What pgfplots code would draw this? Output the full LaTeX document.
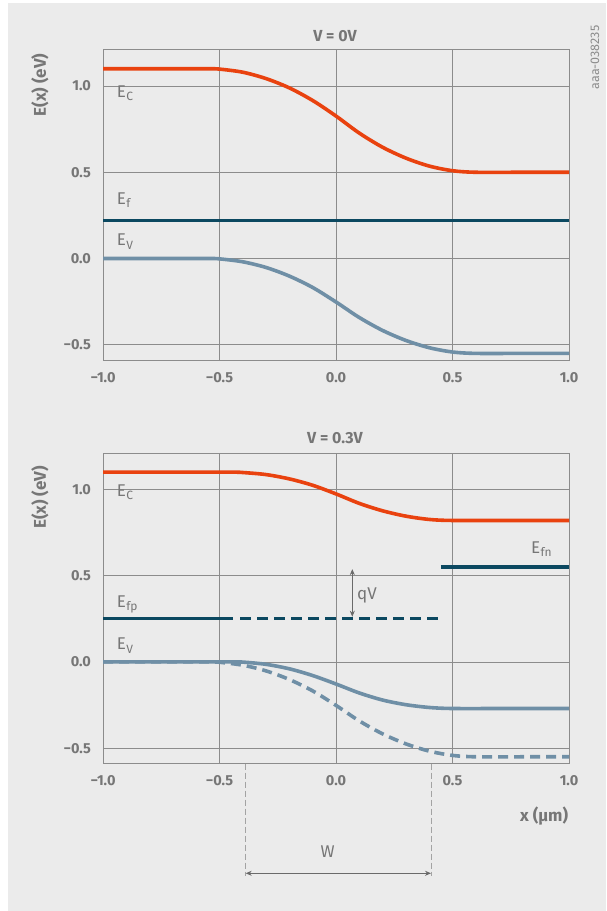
\documentclass[border=0pt]{standalone}
\usepackage{pgfplots}
\pgfplotsset{compat=1.18}
\usepackage{fontspec}
\setmainfont{Fira Sans}
\usetikzlibrary{arrows.meta}
\definecolor{bg}{HTML}{EBEBEB}
\definecolor{ecol}{HTML}{E9420F}
\definecolor{fcol}{HTML}{0B4860}
\definecolor{vcol}{HTML}{6F8FA6}
\definecolor{txt}{HTML}{767676}
\definecolor{gridc}{HTML}{8C8C8C}
\definecolor{annc}{HTML}{6A6A6A}
\newcommand{\Es}[1]{E\kern0.3pt\raisebox{-0.18em}{\fontsize{12}{12}\selectfont #1}}
\pgfplotsset{band/.style={
  scale only axis, width=466pt, height=310.5pt, anchor=south west,
  xmin=-1, xmax=1, ymin=-0.59, ymax=1.21,
  xtick={-1,-0.5,0,0.5,1}, ytick={-0.5,0,0.5,1},
  xticklabels={−1.0,−0.5,0.0,0.5,1.0},
  yticklabels={−0.5,0.0,0.5,1.0},
  major tick length=0pt,
  grid=major, grid style={gridc, line width=0.8pt},
  axis line style={gridc, line width=0.8pt},
  tick label style={font=\fontsize{14.5}{16}\selectfont\bfseries, text=txt, inner sep=0pt},
  xticklabel style={anchor=north, yshift=-12pt},
  yticklabel style={anchor=east, xshift=-12pt},
  clip=false,
}}
\begin{document}
\begin{tikzpicture}[x=1pt,y=1pt]
\fill[white] (0pt,0pt) rectangle (606pt,911pt);
\fill[bg] (8pt,0pt) rectangle (606pt,907.7pt);
% ---------- V = 0V ----------
\begin{axis}[band, at={(103pt,550.7pt)}]
\addplot[fcol, line width=3.2pt] coordinates {(-1,0.22) (1,0.22)};
\addplot[ecol, line width=3.6pt, smooth] coordinates {
(-1,1.1) (-0.75,1.1) (-0.55,1.1) (-0.5,1.098) (-0.4,1.080) (-0.3,1.043) (-0.2,0.989) (-0.1,0.916) (0,0.826) (0.1,0.727) (0.2,0.645) (0.3,0.582) (0.4,0.536) (0.5,0.509) (0.6,0.5) (0.8,0.5) (1,0.5)};
\addplot[vcol, line width=3.6pt, smooth] coordinates {
(-1,0) (-0.75,0) (-0.55,0) (-0.5,-0.002) (-0.4,-0.019) (-0.3,-0.052) (-0.2,-0.102) (-0.1,-0.168) (0,-0.252) (0.1,-0.342) (0.2,-0.417) (0.3,-0.475) (0.4,-0.517) (0.5,-0.542) (0.6,-0.55) (0.8,-0.55) (1,-0.55)};
\end{axis}
% ---------- V = 0.3V ----------
\begin{axis}[band, at={(103pt,147.3pt)}]
\addplot[ecol, line width=3.6pt, smooth] coordinates {
(-1,1.1) (-0.75,1.1) (-0.45,1.1) (-0.4,1.098) (-0.3,1.086) (-0.2,1.061) (-0.1,1.024) (0,0.974) (0.1,0.919) (0.2,0.876) (0.3,0.845) (0.4,0.826) (0.5,0.82) (0.75,0.82) (1,0.82)};
\addplot[fcol, line width=3.2pt] coordinates {(0.45,0.55) (1,0.55)};
\addplot[fcol, line width=3.2pt] coordinates {(-1,0.25) (-0.44,0.25)};
\addplot[fcol, line width=3.2pt, dash pattern=on 11pt off 6pt] coordinates {(-0.41,0.25) (0.44,0.25)};
\addplot[vcol, line width=3.6pt, smooth, dash pattern=on 10pt off 6pt] coordinates {
(-1,0) (-0.75,0) (-0.55,0) (-0.5,-0.002) (-0.4,-0.019) (-0.3,-0.052) (-0.2,-0.102) (-0.1,-0.168) (0,-0.252) (0.1,-0.342) (0.2,-0.417) (0.3,-0.475) (0.4,-0.517) (0.5,-0.542) (0.6,-0.55) (0.8,-0.55) (1,-0.55)};
\addplot[vcol, line width=3.6pt, smooth] coordinates {
(-1,0) (-0.75,0) (-0.45,0) (-0.4,-0.001) (-0.3,-0.014) (-0.2,-0.040) (-0.1,-0.079) (0,-0.128) (0.1,-0.180) (0.2,-0.221) (0.3,-0.248) (0.4,-0.264) (0.5,-0.27) (0.75,-0.27) (1,-0.27)};
\draw[annc, line width=0.8pt, {Stealth[length=6pt,width=5pt]}-{Stealth[length=6pt,width=5pt]}] (axis cs:0.07,0.262) -- (axis cs:0.07,0.538);
\end{axis}
% ---------- depletion width ----------
\draw[gridc!80!white, line width=0.8pt, dash pattern=on 6pt off 3pt] (245.7pt,147.3pt) -- (245.7pt,35pt);
\draw[gridc!80!white, line width=0.8pt, dash pattern=on 6pt off 3pt] (431pt,147.3pt) -- (431pt,35pt);
\draw[annc, line width=0.8pt, {Stealth[length=6pt,width=5pt]}-{Stealth[length=6pt,width=5pt]}] (245.7pt,37.7pt) -- (431pt,37.7pt);
\node[font=\fontsize{17}{17}\selectfont, text=txt] at (327.7pt,59.3pt) {W};
% ---------- labels ----------
\tikzset{lab/.style={anchor=base west, inner sep=0pt, font=\fontsize{17}{17}\selectfont, text=txt}}
\node[lab] at (116.7pt,813.7pt) {\Es{C}};
\node[lab] at (116.7pt,706.7pt) {\Es{f}};
\node[lab] at (116.7pt,665pt) {\Es{V}};
\node[lab] at (116.7pt,414.3pt) {\Es{C}};
\node[lab] at (116.7pt,303.7pt) {\Es{fp}};
\node[lab] at (116.7pt,261pt) {\Es{V}};
\node[lab] at (531pt,357.7pt) {\Es{fn}};
\node[lab] at (357pt,311pt) {qV};
\node[anchor=east, inner sep=0pt, font=\fontsize{17}{17}\selectfont\bfseries, text=txt] at (568.3pt,95pt) {x (µm)};
\node[font=\fontsize{16}{16}\selectfont\bfseries, text=txt] at (335pt,875pt) {V = 0V};
\node[font=\fontsize{16}{16}\selectfont\bfseries, text=txt] at (335pt,472.7pt) {V = 0.3V};
\node[rotate=90, font=\fontsize{17}{17}\selectfont\bfseries, text=txt] at (40pt,826pt) {E(x) (eV)};
\node[rotate=90, font=\fontsize{17}{17}\selectfont\bfseries, text=txt] at (40pt,413.5pt) {E(x) (eV)};
\node[rotate=90, font=\fontsize{12.5}{12.5}\selectfont, text=gridc] at (595pt,853.5pt) {aaa-038235};
\end{tikzpicture}
\end{document}
